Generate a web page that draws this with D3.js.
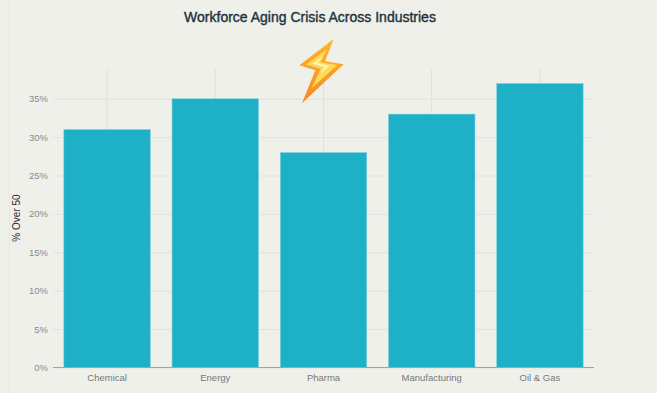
<!DOCTYPE html>
<html>
<head>
<meta charset="utf-8">
<title>Workforce Aging Crisis Across Industries</title>
<script src="https://cdnjs.cloudflare.com/ajax/libs/d3/7.8.5/d3.min.js"></script>
<style>
    html, body { margin: 0; padding: 0; background: #f0f0eb; overflow: hidden; }
    svg { display: block; font-family: "Liberation Sans", Arial, sans-serif; }
</style>
</head>
<body>
<div id="chart"></div>
<script>
    var industries = ['Chemical', 'Energy', 'Pharma', 'Manufacturing', 'Oil & Gas'];
    var over50 = [31, 35, 28, 33, 37];
    var yTicks = [0, 5, 10, 15, 20, 25, 30, 35];

    var w = 657, h = 393,
        margin = {top: 68, right: 63, bottom: 25.5, left: 53},
        width = w - margin.left - margin.right,
        height = h - margin.top - margin.bottom;

    var xScale = d3.scaleBand().domain(industries).range([0, width]).paddingInner(0.2).paddingOuter(0.1);
    var yScale = d3.scaleLinear().domain([0, 39]).range([height, 0]);

    var svg = d3.select('#chart').append('svg').attr('width', w).attr('height', h);

    // faint page edge on the left of the screenshot
    svg.append('line').attr('x1', 9.5).attr('x2', 9.5).attr('y1', 0).attr('y2', h)
       .attr('stroke', '#e6e6e1').attr('stroke-width', 1);

    var canvas = svg.append('g').attr('transform', 'translate(' + margin.left + ',' + margin.top + ')');

    // y gridlines and labels
    var yAxis = canvas.append('g').call(d3.axisLeft(yScale).tickValues(yTicks).tickSize(-width).tickPadding(5).tickFormat(function(d){ return d + '%'; }));
    yAxis.select('.domain').remove();
    yAxis.selectAll('line').attr('stroke', '#e2e2dd');
    yAxis.selectAll('text').attr('fill', '#8a8a8a').style('font-size', '9.5px');

    // x gridlines run up to the top of the plot
    var xAxis = canvas.append('g').attr('transform', 'translate(0,' + height + ')')
        .call(d3.axisBottom(xScale).tickSize(-height).tickPadding(7));
    xAxis.select('.domain').remove();
    xAxis.selectAll('line').attr('stroke', '#e2e2dd');
    xAxis.selectAll('text').attr('fill', '#777').style('font-size', '9.5px');

    canvas.selectAll('rect.bar').data(over50).enter().append('rect')
        .attr('class', 'bar')
        .attr('x', function(d, i){ return xScale(industries[i]); })
        .attr('y', function(d){ return yScale(d); })
        .attr('width', xScale.bandwidth())
        .attr('height', function(d){ return height - yScale(d); })
        .attr('fill', '#1db0c7')
        .attr('stroke', '#8fd3dc')
        .attr('stroke-width', 0.6);

    // baseline
    canvas.append('line').attr('x1', 0).attr('x2', width).attr('y1', height).attr('y2', height)
        .attr('stroke', '#a3a39f').attr('stroke-width', 1);

    svg.append('text').attr('x', 310).attr('y', 22).attr('text-anchor', 'middle')
        .attr('fill', '#1f343d').style('font-size', '14px').style('font-weight', '500')
        .attr('stroke', '#1f343d').attr('stroke-width', 0.4)
        .text('Workforce Aging Crisis Across Industries');

    svg.append('text').attr('transform', 'translate(20,218) rotate(-90)')
        .attr('text-anchor', 'middle').attr('fill', '#2a2a2a').style('font-size', '10px')
        .text('% Over 50');

    // lightning bolt annotation
    var defs = svg.append('defs');
    var grad = defs.append('linearGradient').attr('id', 'boltFill').attr('x1', 0).attr('y1', 0).attr('x2', 0).attr('y2', 1);
    grad.append('stop').attr('offset', '0%').attr('stop-color', '#ffb52e');
    grad.append('stop').attr('offset', '100%').attr('stop-color', '#f58a1f');

    var bolt = svg.append('g').attr('transform', 'translate(280,30) scale(0.3333)');
    bolt.append('path').attr('d', 'M161,27 L58,106 L106,121 L66,220 L191,103 L135,94 Z').attr('fill', 'url(#boltFill)');
    bolt.append('path').attr('d', 'M141,58 L78,104 L122,116 L95,175 L172,105 L122,97 Z').attr('fill', '#ffd95a');
    bolt.append('path').attr('d', 'M126,80 L98,102 L134,110 L122,132 L148,107 L112,99 Z').attr('fill', '#fff6b8');
</script>
</body>
</html>
